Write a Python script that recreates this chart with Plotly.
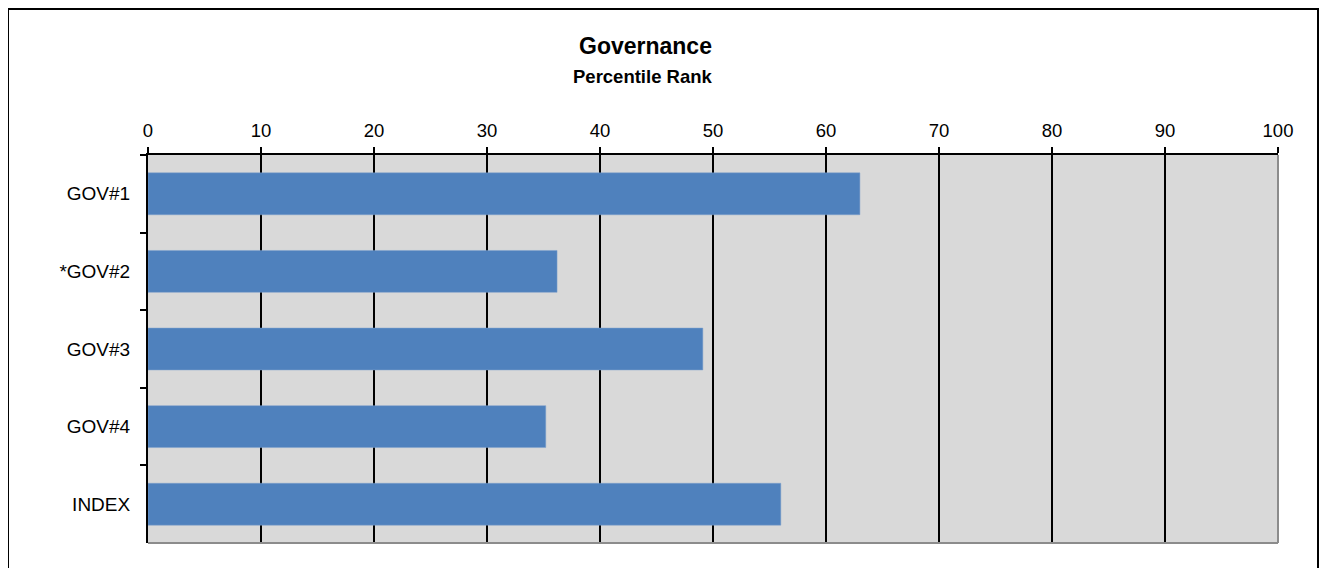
import plotly.graph_objects as go

categories = ["GOV#1", "*GOV#2", "GOV#3", "GOV#4", "INDEX"]
values = [63.0, 36.2, 49.1, 35.2, 56.0]
x_ticks = [0, 10, 20, 30, 40, 50, 60, 70, 80, 90, 100]

OFF = 8  # page body margin
W, H = 1329 - OFF, 568 - OFF
L, R, T, B = 148 - OFF, 1278 - OFF, 155 - OFF, 543 - OFF
pw, ph = R - L, B - T

def px(x):
    return (x - OFF - L) / pw

def py(y):
    return (B - (y - OFF)) / ph

fig = go.Figure(go.Bar(
    x=values, y=categories, orientation="h",
    marker=dict(color="#4f81bd", line=dict(color="#7fa0cc", width=0.5)),
    width=0.54,
))

fig.update_layout(
    width=W, height=H,
    margin=dict(l=L, r=W - R, t=T, b=H - B, pad=0),
    paper_bgcolor="white", plot_bgcolor="#d9d9d9",
    font=dict(family="Liberation Sans, Arial, sans-serif", color="black"),
    showlegend=False,
    xaxis=dict(
        side="top", range=[0, 100], tickvals=x_ticks,
        ticktext=[str(v) for v in x_ticks],
        ticks="outside", ticklen=6, tickwidth=2, tickcolor="black",
        showline=True, linecolor="black", linewidth=2,
        showgrid=True, gridcolor="black", gridwidth=2,
        zeroline=False, tickfont=dict(size=18.5), fixedrange=True,
        ticklabelstandoff=3,
    ),
    yaxis=dict(
        categoryorder="array", categoryarray=categories, autorange="reversed",
        tickson="boundaries", ticks="outside", ticklen=6, tickwidth=2,
        tickcolor="black", showline=True, linecolor="black", linewidth=2,
        showgrid=False, tickfont=dict(size=19), ticklabelstandoff=12,
    ),
    shapes=[
        dict(type="line", xref="paper", yref="paper", x0=1, x1=1, y0=0, y1=1,
             line=dict(color="#8c8c8c", width=2), layer="above"),
        dict(type="line", xref="paper", yref="paper", x0=0, x1=1, y0=0, y1=0,
             line=dict(color="#8c8c8c", width=2), layer="above"),
        dict(type="rect", xref="paper", yref="paper",
             x0=px(8), x1=px(1318), y0=py(9), y1=py(600),
             line=dict(color="black", width=2), fillcolor="rgba(0,0,0,0)"),
    ],
    annotations=[
        dict(text="<b>Governance</b>", xref="paper", yref="paper",
             x=px(645), y=py(46), showarrow=False, font=dict(size=23),
             xanchor="center", yanchor="middle"),
        dict(text="<b>Percentile Rank</b>", xref="paper", yref="paper",
             x=px(643), y=py(76), showarrow=False, font=dict(size=18.5),
             xanchor="center", yanchor="middle"),
    ],
)

fig.write_html("out.html")
